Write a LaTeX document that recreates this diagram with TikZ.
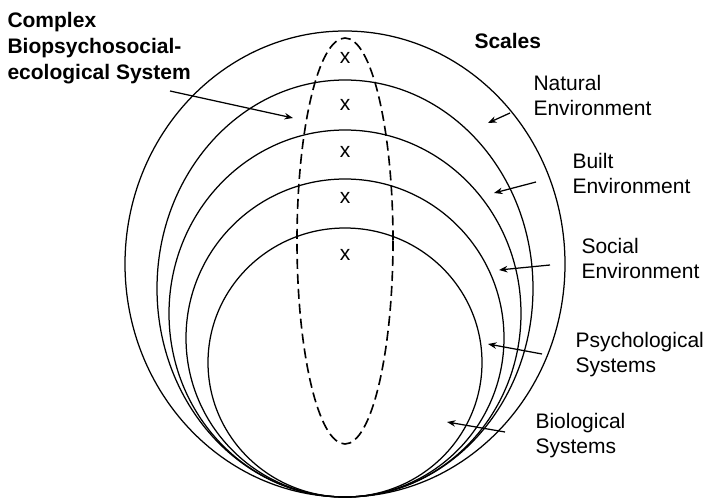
\documentclass[tikz,border=0pt]{standalone}
\usepackage{fontspec}
\setmainfont{Liberation Sans}
\usetikzlibrary{arrows.meta}

\begin{document}
\begin{tikzpicture}[x=0.4pt,y=-0.4pt,
	ring/.style={line width=0.5pt},
	core/.style={line width=0.65pt,dash pattern=on 4pt off 2pt},
	lbl/.style={anchor=north west,inner sep=0pt,align=left,font=\fontsize{8.4}{10}\selectfont},
	hd/.style={lbl,font=\fontsize{8.4}{10.4}\selectfont\bfseries},
	pt/.style={-{Stealth[length=3.4pt,width=2.6pt]},line width=0.5pt}]
	\useasboundingbox (0,0) rectangle (707,499);
	\foreach \cy/\rx/\ry in {264/220/233,288.5/188/208.5,313.5/176/183.5,338/159/159,362.5/137/134.5}
		\draw[ring] (345,\cy) ellipse [x radius=\rx,y radius=\ry];
	\draw[core] (345,241) ellipse [x radius=48,y radius=203];
	\foreach \i/\y in {1/58,2/105,3/152,4/198,5/255}
		\node[inner sep=0pt,font=\fontsize{8.4}{10}\selectfont] (x\i) at (345,\y) {x};

	\node[hd] (sys) at (7,12) {Complex\\Biopsychosocial-\\ecological System};
	\node[hd] (scales) at (474,33) {Scales};
	\node[lbl] (nat) at (533,75) {Natural\\Environment};
	\node[lbl] (built) at (572,153) {Built\\Environment};
	\node[lbl] (soc) at (581,238) {Social\\Environment};
	\node[lbl] (psy) at (575,332) {Psychological\\Systems};
	\node[lbl] (bio) at (535,413) {Biological\\Systems};

	\coordinate (sys-t) at (170,91);
	\coordinate (sys-h) at (293,118);
	\coordinate (nat-t) at (510,113);
	\coordinate (nat-h) at (488,123);
	\coordinate (built-t) at (536,182);
	\coordinate (built-h) at (494,193);
	\coordinate (soc-t) at (550,265);
	\coordinate (soc-h) at (499,270);
	\coordinate (psy-t) at (542,354);
	\coordinate (psy-h) at (488,344);
	\coordinate (bio-t) at (505,432);
	\coordinate (bio-h) at (447,422);
	\foreach \n in {sys,nat,built,soc,psy,bio}
		\draw[pt] (\n-t) -- (\n-h);
\end{tikzpicture}
\end{document}
